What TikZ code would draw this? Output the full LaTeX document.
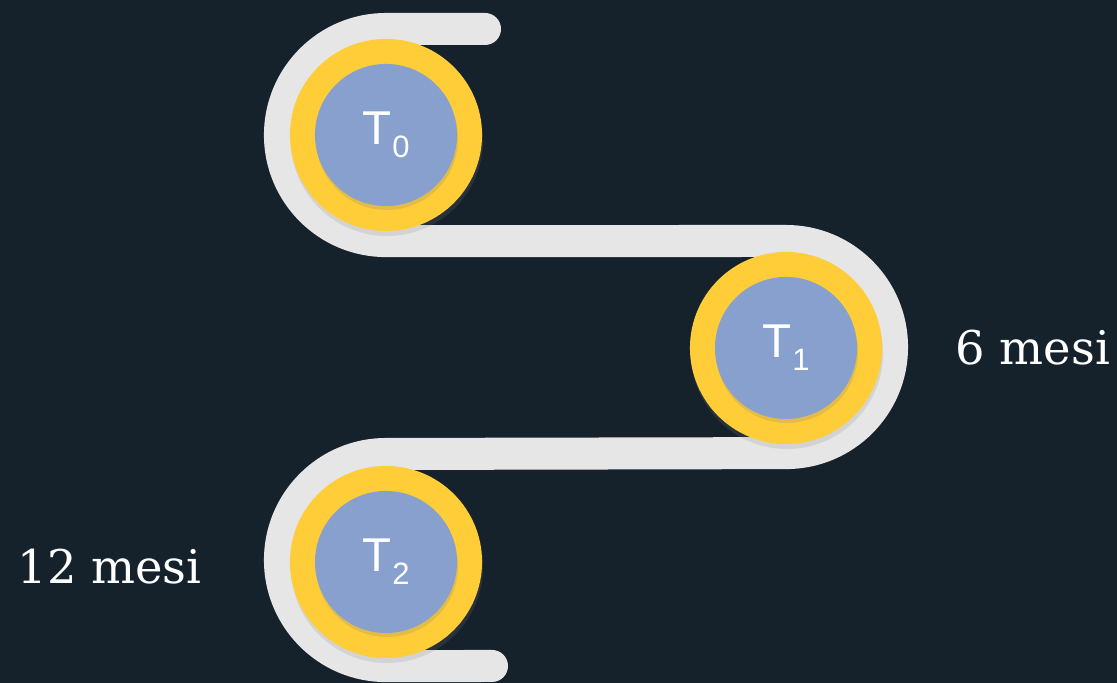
\documentclass[tikz,border=0pt]{standalone}
\usepackage{fontspec}
\setmainfont{DejaVu Serif}
\newfontfamily\tfont{Liberation Sans}
\usetikzlibrary{positioning,shadows}
\definecolor{bgnavy}{RGB}{22,34,43}
\definecolor{bandgray}{RGB}{230,230,230}
\definecolor{ringyellow}{RGB}{255,205,55}
\definecolor{discblue}{RGB}{135,160,206}
\newcommand{\tlabel}[1]{{\tfont\fontsize{13.5}{15}\selectfont T\kern0.3pt\raisebox{-3.6pt}{\fontsize{8.8}{10}\selectfont #1}}}
\tikzset{
	band/.style={line width=0.32cm, bandgray, line cap=round, line join=round},
	ring/.style={circle, fill=ringyellow, minimum size=1.92cm, inner sep=0pt,
		drop shadow={opacity=0.18, shadow xshift=0.01cm, shadow yshift=-0.05cm}},
	disc/.style={circle, fill=discblue, minimum size=1.42cm, inner sep=0pt, text=white,
		drop shadow={opacity=0.22, shadow xshift=0.01cm, shadow yshift=-0.04cm}},
	timetext/.style={text=white, inner sep=0pt, font=\fontsize{13.2}{16}\selectfont}
}
\begin{document}
\begin{tikzpicture}[x=0.01cm, y=0.01cm]
	\fill[bgnavy](0,0)rectangle(1117,683);
	\useasboundingbox(0,0)rectangle(1117,683);
	% snake band
	\draw[band]
	(485,654)--(386,654)arc[start angle=90, end angle=270, radius=1.06cm]
	--(786,442)arc[start angle=90, end angle=-90, radius=1.06cm]
	--(386,229)arc[start angle=90, end angle=270, radius=1.06cm]
	--(492,17)
	;
	% stages
	\node[ring](r0) at (386,548){};
	\node[disc](t0) at (r0){\tlabel{0}};
	\node[ring](r1) at (786,335){};
	\node[disc](t1) at (r1){\tlabel{1}};
	\node[ring](r2) at (386,121){};
	\node[disc](t2) at (r2){\tlabel{2}};
	\node[timetext, right=0.72cm of r1](m6){6 mesi};
	\node[timetext, left=0.87cm of r2, yshift=-0.05cm](m12){12 mesi};
\end{tikzpicture}
\end{document}
